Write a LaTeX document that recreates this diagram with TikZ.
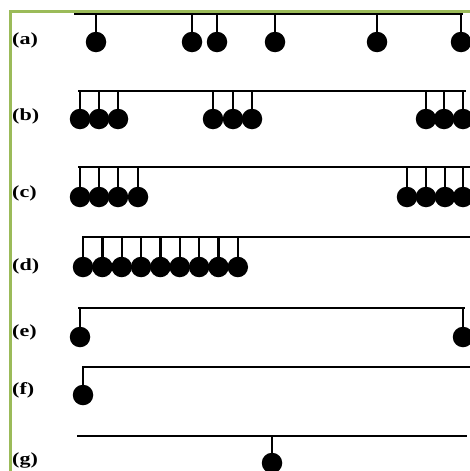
\documentclass[tikz,border=0pt]{standalone}
\usepackage{fontspec}
\setmainfont{Liberation Serif}
\definecolor{framegreen}{HTML}{9BBB59}
\newcommand{\widelbl}[1]{\scalebox{1.3}[1]{#1}}
\tikzset{
	ball/.style={circle, fill=black, inner sep=0pt, minimum size=20.5pt},
	bar/.style={line width=2.4pt},
	lbl/.style={anchor=west, inner sep=0pt, font=\fontsize{17}{17}\selectfont\bfseries}
}

\begin{document}
\begin{tikzpicture}[x=1pt,y=-1pt]
			\useasboundingbox (0,0) rectangle (470,471);
			\draw[framegreen, line width=3.5pt] (10.5,471) -- (10.5,11.5) -- (470,11.5);
			% bars
			\foreach \r/\xa/\xb/\y in {a/74/463/14, b/78/466/91, c/78/470/167, d/82/470/237, e/78/465/308, f/82/470/367, g/77/467/436}{
					\coordinate (\r L) at (\xa,\y);
					\coordinate (\r R) at (\xb,\y);
					\draw[bar] (\r L) -- (\r R);
				}
			% balls
			\foreach \x [count=\i] in {96,192,217,275,377,461}{
					\node[ball] (a\i) at (\x,42) {};
					\draw[bar] (a\i.center) -- (a\i.center |- aL);
				}
			\foreach \x [count=\i] in {80,99,118,213,233,252,426,444,463}{
					\node[ball] (b\i) at (\x,119) {};
					\draw[bar] (b\i.center) -- (b\i.center |- bL);
				}
			\foreach \x [count=\i] in {80,99,118,138,407,426,445,463}{
					\node[ball] (c\i) at (\x,197) {};
					\draw[bar] (c\i.center) -- (c\i.center |- cL);
				}
			\foreach \i [evaluate=\i as \x using 83+19.35*(\i-1)] in {1,...,9}{
					\node[ball] (d\i) at (\x,267) {};
					\draw[bar] (d\i.center) -- (d\i.center |- dL);
				}
			\foreach \x [count=\i] in {80,463}{
					\node[ball] (e\i) at (\x,337) {};
					\draw[bar] (e\i.center) -- (e\i.center |- eL);
				}
			\node[ball] (f1) at (83,395) {};
			\draw[bar] (f1.center) -- (f1.center |- fL);
			\node[ball] (g1) at (272,463) {};
			\draw[bar] (g1.center) -- (g1.center |- gL);
			%
			\node[lbl] (la) at (12,40) {\widelbl{(a)}};
			\node[lbl] (lb) at (12,116) {\widelbl{(b)}};
			\node[lbl] (lc) at (12,193) {\widelbl{(c)}};
			\node[lbl] (ld) at (12,266) {\widelbl{(d)}};
			\node[lbl] (le) at (12,332) {\widelbl{(e)}};
			\node[lbl] (lf) at (12,390) {\widelbl{(f)}};
			\node[lbl] (lg) at (12,460) {\widelbl{(g)}};
		\end{tikzpicture}
\end{document}
